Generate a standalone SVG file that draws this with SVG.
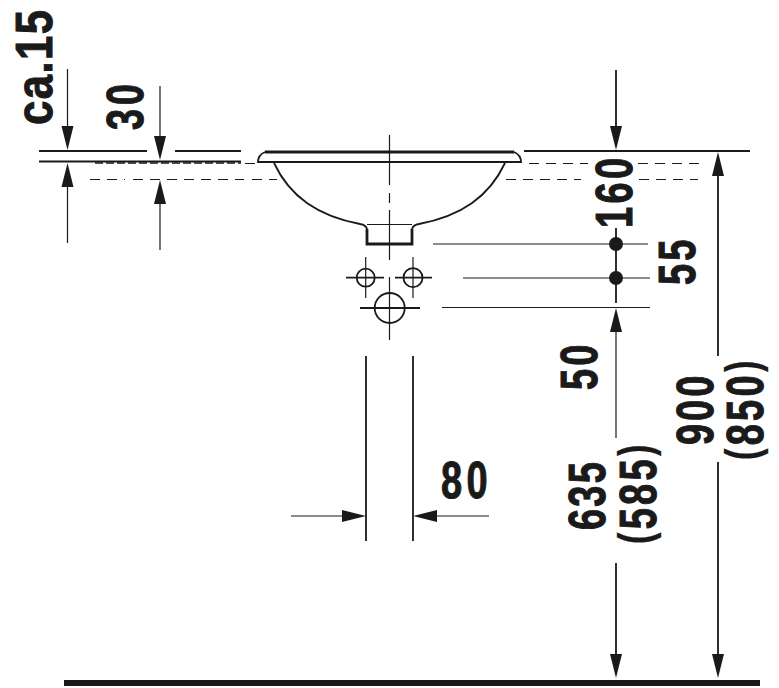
<svg xmlns="http://www.w3.org/2000/svg" width="779" height="688" viewBox="0 0 779 688">
<style>
.l{stroke:#1a1a1a;fill:none;stroke-width:1.2}
.m{stroke:#1a1a1a;fill:none;stroke-width:1.8}
.t{stroke:#1a1a1a;fill:none;stroke-width:2.8}
.d{stroke:#1a1a1a;fill:none;stroke-width:1;stroke-dasharray:10 7}
.a{fill:#1a1a1a}
text{font-family:"Liberation Sans",Arial,sans-serif;font-weight:700;font-size:52px;fill:#1a1a1a;stroke:#1a1a1a;stroke-width:1}
.p{font-size:47px;stroke-width:.3}
</style>
<defs>
<path id="ad" class="a" d="M-6,-24 L6,-24 L0,0 Z"/>
</defs>
<g id="connectors">
<path class="m" d="M39,151H147M175,151H241M39,161.500H241M524,151H750"/>
<path class="d" style="stroke-width:1.500;stroke-dasharray:8 3" d="M95,163H241"/>
<path class="d" d="M90,179.500H125M133,179.500H244M252,179.500H277M506,179.500H581M639,179.500H698M529,163.500H588M638,163.500H706M245,163.500H255"/>
<path class="l" d="M67.500,69V130M67.500,184V243M160,86V140M160,203V250"/>
<path class="m" d="M616,70V130M616,228V303M718,175V356M718,462V660M616,563V660"/>
<path class="l" d="M616,332V438M433,244H648M463,278H650M442,307.500H650"/>
<path class="m" d="M366,356V541M413,356V541"/>
<path class="l" d="M291,516H345M489,516H435"/>
<use href="#ad" x="67.500" y="150"/>
<use href="#ad" transform="translate(67.500 163) rotate(180)"/>
<use href="#ad" x="160" y="160"/>
<use href="#ad" transform="translate(160 180) rotate(180)"/>
<use href="#ad" x="616" y="150"/>
<use href="#ad" transform="translate(718 152) rotate(180)"/>
<use href="#ad" transform="translate(616 308) rotate(180)"/>
<use href="#ad" x="616" y="678"/>
<use href="#ad" x="718" y="678"/>
<use href="#ad" transform="translate(366 516) rotate(-90)"/>
<use href="#ad" transform="translate(413 516) rotate(90)"/>
<circle class="a" cx="616" cy="244" r="7"/>
<circle class="a" cx="616" cy="278" r="7"/>
<rect class="a" x="64" y="680" width="696" height="6"/>
</g>
<g id="basin">
<path class="t" d="M265,152H514"/>
<path class="m" d="M265,152Q258,155 258,162H521Q521,155 514,152"/>
<path class="m" d="M274,163C290,197 318,216 360,224Q366,225 367,229M505,163C489,197 461,216 419,224Q413,225 412,229"/>
<path class="t" d="M367,229V244H412V229"/>
<path class="l" d="M367,224.500H412"/>
<path class="l" d="M389.500,135V185M389.500,193V203M389.500,210V260M389.500,277V340"/>
</g>
<g id="holes">
<circle class="m" cx="365.700" cy="277.700" r="9"/>
<circle class="m" cx="413" cy="277.700" r="9.500"/>
<circle class="m" cx="389.700" cy="308" r="15"/>
<path class="m" d="M346,277.700H384M395,277.700H432M360,308H420"/>
<path class="l" d="M365.700,257V298M413,257V298"/>
</g>
<g id="labels">
<text transform="translate(51.500 125) rotate(-90) scale(.84 1)" textLength="137" lengthAdjust="spacing">ca.15</text>
<text transform="translate(143 130) rotate(-90) scale(.73 1)" textLength="63" lengthAdjust="spacing">30</text>
<text transform="translate(632 228) rotate(-90) scale(.73 1)" textLength="96" lengthAdjust="spacing">160</text>
<text transform="translate(695 285) rotate(-90) scale(.73 1)" textLength="62" lengthAdjust="spacing">55</text>
<text transform="translate(597 390) rotate(-90) scale(.73 1)" textLength="62" lengthAdjust="spacing">50</text>
<text transform="translate(605 530) rotate(-90) scale(.73 1)" textLength="93" lengthAdjust="spacing">635</text>
<text transform="translate(656 544) rotate(-90) scale(.73 1)" letter-spacing="4.500"><tspan class="p" dy="-5">(</tspan><tspan dy="5">585</tspan><tspan class="p" dy="-5">)</tspan></text>
<text transform="translate(713 445) rotate(-90) scale(.73 1)" textLength="95" lengthAdjust="spacing">900</text>
<text transform="translate(763 460) rotate(-90) scale(.73 1)" letter-spacing="4.500"><tspan class="p" dy="-5">(</tspan><tspan dy="5">850</tspan><tspan class="p" dy="-5">)</tspan></text>
<text transform="translate(441 498) scale(.73 1)" textLength="64" lengthAdjust="spacing">80</text>
</g>
</svg>
